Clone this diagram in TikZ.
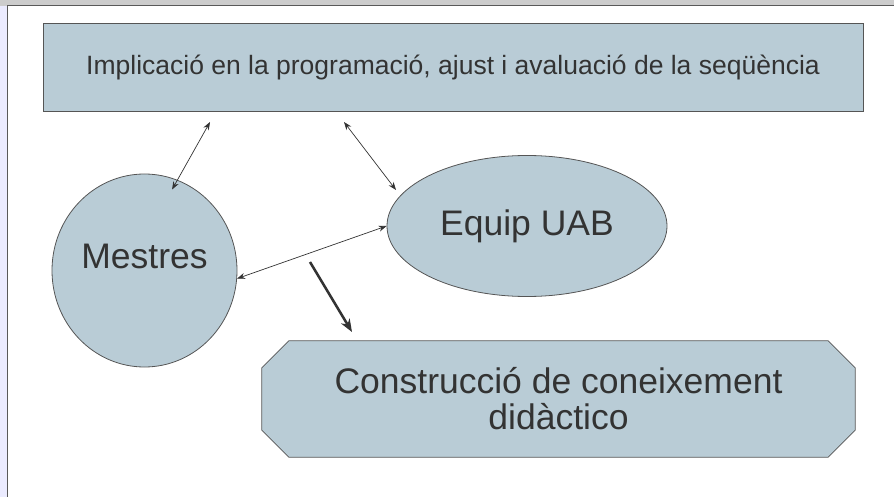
\documentclass[tikz,border=0pt]{standalone}
\usepackage{fontspec}
\setmainfont{Liberation Sans}
\usetikzlibrary{shapes.geometric,arrows.meta,backgrounds}
\definecolor{boxfill}{RGB}{185,204,214}
\definecolor{boxline}{RGB}{85,85,85}
\definecolor{txt}{RGB}{51,51,51}

\begin{document}
\begin{tikzpicture}[x=1pt,y=-1pt,>={Stealth[length=8pt,width=6pt]},
    every node/.style={text=txt},
    blob/.style={fill=boxfill,draw=boxline,line width=0.8pt,inner sep=0pt},
    bigtext/.style={font=\fontsize{35.5}{36}\selectfont},
    link/.style={<->,draw=txt,line width=0.7pt}]
  \useasboundingbox (0,0) rectangle (894,497);
  % window frame
  \fill[gray!40] (0,0) rectangle (894,6);
  \fill[blue!8] (0,6) rectangle (7,497);
  \draw[gray!70!black,line width=1pt] (7,497) -- (7,6) -- (894,6);

  \node[blob,rectangle,minimum width=820pt,minimum height=88pt,
        font=\fontsize{26.5}{30}\selectfont] (impl) at (453,67)
        {Implicació en la programació, ajust i avaluació de la seqüència};
  \node[blob,ellipse,minimum width=185pt,minimum height=193pt,
        label={[bigtext,yshift=14pt]center:Mestres}] (mestres) at (144.5,270.5) {};
  \node[blob,ellipse,minimum width=280pt,minimum height=141pt,bigtext]
        (equip) at (527,226) {Equip UAB};
  \node[rectangle,inner sep=0pt,minimum width=593pt,minimum height=116pt,
        align=center,bigtext] (constr) at (558.5,399)
        {Construcció de coneixement\\didàctico};
  % octagon behind the text
  \begin{scope}[on background layer]
    \draw[blob] ([xshift=27pt]constr.north west) -- ([xshift=-27pt]constr.north east)
      -- ([yshift=-27pt]constr.north east) -- ([yshift=27pt]constr.south east)
      -- ([xshift=-27pt]constr.south east) -- ([xshift=27pt]constr.south west)
      -- ([yshift=27pt]constr.south west) -- ([yshift=-27pt]constr.north west) -- cycle;
  \end{scope}

  \coordinate (implA) at (210,122);
  \coordinate (implB) at (344,122);
  \coordinate (equipA) at (396,190);
  \coordinate (thickA) at (310,262);
  \coordinate (thickB) at (352,332);

  \draw[link,shorten >=-11pt] (implA) -- (mestres.70);
  \draw[link] (implB) -- (equipA);
  \draw[link] (mestres.-5) -- (equip.west);
  \draw[-{Stealth[length=13pt,width=10pt]},draw=txt,line width=2.5pt] (thickA) -- (thickB);
\end{tikzpicture}
\end{document}
